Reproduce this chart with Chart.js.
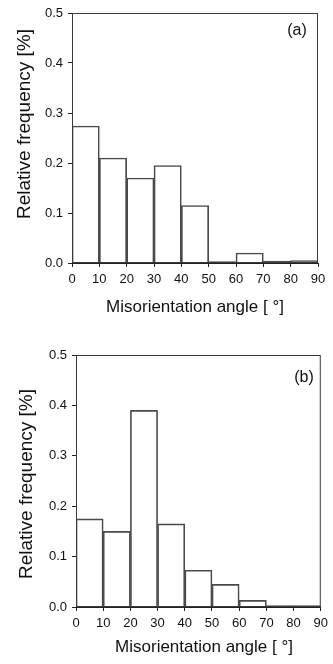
<!DOCTYPE html>
<html>
<head>
<meta charset="utf-8">
<script src="https://cdn.jsdelivr.net/npm/chart.js@4.4.1/dist/chart.umd.min.js"></script>
<style>
  html, body { margin: 0; padding: 0; background: #fff; }
  body { width: 333px; height: 664px; position: relative; overflow: hidden; }
  canvas { position: absolute; left: 0; }
  #chartA { top: 0; }
  #chartB { top: 332px; }
</style>
</head>
<body>
<canvas id="chartA" width="333" height="332"></canvas>
<canvas id="chartB" width="333" height="332"></canvas>
<script>
// Bin centres of the 10 degree misorientation classes (0-10, 10-20, ... 80-90)
const binCenters = [5, 15, 25, 35, 45, 55, 65, 75, 85];

// Relative frequencies
const freqA = [0.274, 0.21, 0.17, 0.195, 0.115, 0.003, 0.02, 0.004, 0.005];
const freqB = [0.175, 0.15, 0.39, 0.165, 0.073, 0.045, 0.013, 0.003, 0.003];

// Tick labels
const xTicks = [0, 10, 20, 30, 40, 50, 60, 70, 80, 90];
const yTicks = [0.0, 0.1, 0.2, 0.3, 0.4, 0.5];

const xTitle = 'Misorientation angle [ °]';
const yTitle = 'Relative frequency [%]';

const FONT = "'Liberation Sans', Arial, sans-serif";

// Draws the box round the plot, the axis titles and the panel label
const frameAndText = {
    id: 'frameAndText',
    afterDraw(chart, args, opts) {
        const { ctx, chartArea: a } = chart;
        ctx.save();
        ctx.strokeStyle = '#3a3a3a';
        ctx.lineWidth = 1;
        ctx.strokeRect(a.left + 0.5, a.top + 0.5, a.right - a.left - 1, a.bottom - a.top - 1);

        ctx.fillStyle = '#111';
        ctx.textBaseline = 'middle';
        ctx.textAlign = 'center';

        // x title
        ctx.font = '17px ' + FONT;
        ctx.fillText(xTitle, opts.xTitleX, opts.xTitleY);

        // y title, rotated
        ctx.save();
        ctx.translate(opts.yTitleX, opts.yTitleY);
        ctx.rotate(-Math.PI / 2);
        ctx.font = '19px ' + FONT;
        ctx.fillText(yTitle, 0, 0);
        ctx.restore();

        // panel label
        ctx.font = '16px ' + FONT;
        ctx.fillText(opts.label, opts.labelX, opts.labelY);
        ctx.restore();
    }
};

function makeHistogram(canvasId, values, box, text) {
    const ctx = document.getElementById(canvasId).getContext('2d');
    const canvasH = 332;

    return new Chart(ctx, {
        type: 'bar',
        data: {
            datasets: [{
                data: binCenters.map((c, i) => ({ x: c, y: values[i] })),
                backgroundColor: 'rgba(0, 0, 0, 0)',
                borderColor: '#4a4a4a',
                borderWidth: 1,
                borderSkipped: 'start',
                barPercentage: 1,
                categoryPercentage: 1
            }]
        },
        options: {
            responsive: false,
            animation: false,
            devicePixelRatio: 1,
            layout: {
                padding: { left: 0, right: 333 - box.right, top: box.top, bottom: 0 }
            },
            scales: {
                x: {
                    type: 'linear',
                    min: 0,
                    max: 90,
                    offset: false,
                    afterBuildTicks: (scale) => {
                        scale.ticks = xTicks.map(v => ({ value: v }));
                    },
                    afterFit: (scale) => { scale.height = canvasH - box.bottom; },
                    grid: {
                        offset: false,
                        drawOnChartArea: false,
                        drawTicks: true,
                        tickLength: 4,
                        color: '#222'
                    },
                    border: { display: true, color: '#222', width: 1 },
                    ticks: {
                        padding: 5,
                        maxRotation: 0,
                        autoSkip: false,
                        color: '#111',
                        font: { family: FONT, size: 13 }
                    }
                },
                y: {
                    type: 'linear',
                    min: 0,
                    max: 0.5,
                    afterBuildTicks: (scale) => {
                        scale.ticks = yTicks.map(v => ({ value: v }));
                    },
                    afterFit: (scale) => { scale.width = box.left; },
                    grid: {
                        drawOnChartArea: false,
                        drawTicks: true,
                        tickLength: 4,
                        color: '#222'
                    },
                    border: { display: true, color: '#222', width: 1 },
                    ticks: {
                        padding: 5,
                        color: '#111',
                        font: { family: FONT, size: 13 },
                        callback: (v) => Number(v).toFixed(1)
                    }
                }
            },
            plugins: {
                legend: { display: false },
                tooltip: { enabled: false },
                frameAndText: text
            }
        },
        plugins: [frameAndText]
    });
}

document.addEventListener('DOMContentLoaded', function() {
    // Panel (a)
    makeHistogram('chartA', freqA,
        { left: 72, right: 318, top: 13, bottom: 263 },
        { xTitleX: 195, xTitleY: 307, yTitleX: 25, yTitleY: 124, label: '(a)', labelX: 297, labelY: 31 });

    // Panel (b)
    makeHistogram('chartB', freqB,
        { left: 76, right: 324, top: 23, bottom: 275 },
        { xTitleX: 204, xTitleY: 315, yTitleX: 27, yTitleY: 152, label: '(b)', labelX: 304, labelY: 46 });
});
</script>
</body>
</html>
